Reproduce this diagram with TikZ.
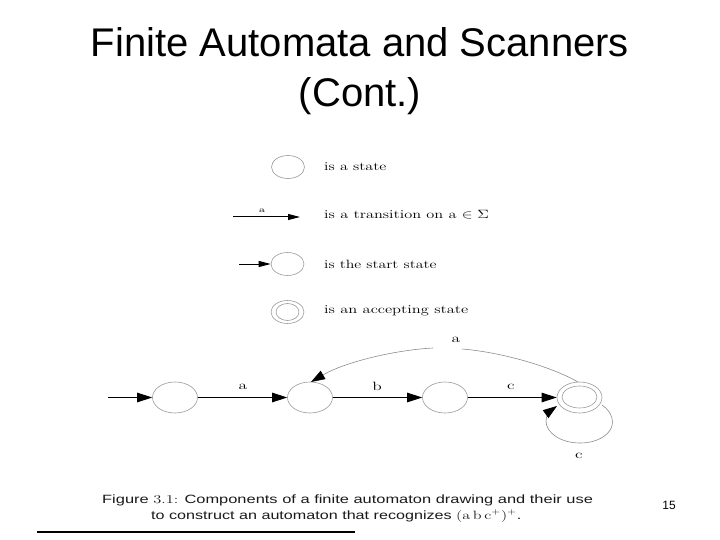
\documentclass[tikz,border=0pt]{standalone}
\usepackage{fontspec}
\setmainfont{Liberation Sans}
\newfontfamily\lm{Latin Modern Roman}
\usetikzlibrary{arrows.meta,shapes.geometric}
\newcommand{\wide}[2]{\scalebox{#1}[1]{#2}}
\tikzset{
 st/.style={ellipse,draw=black!40,line width=0.6pt,minimum width=45pt,minimum height=31pt,inner sep=0pt},
 legst/.style={ellipse,draw=black!40,line width=0.6pt,minimum width=33pt,minimum height=23pt,inner sep=0pt},
 arr/.style={draw=black,line width=1pt,-{Triangle[length=15pt,width=9.5pt]}},
 legarr/.style={draw=black,line width=1pt,-{Triangle[length=12pt,width=6pt]}},
 greyline/.style={draw=black!45,line width=0.6pt},
 greyarr/.style={greyline,-{Triangle[length=14pt,width=9.5pt,fill=black,color=black]}},
 leg/.style={anchor=west,inner sep=0pt,font=\lm\fontsize{12}{13}\selectfont,text=black},
 lab/.style={inner sep=0pt,font=\lm\fontsize{12}{13}\selectfont,text=black},
 captxt/.style={inner sep=0pt,font=\fontsize{12}{13}\selectfont,text=black!90},
 ttl/.style={font=\fontsize{40}{44}\selectfont,inner sep=0pt,anchor=base},
}
\begin{document}
\begin{tikzpicture}[x=1pt,y=-1pt]
\useasboundingbox (0,0) rectangle (720,540);
\node[ttl] (t1) at (360,57) {Finite Automata and Scanners};
\node[ttl] (t2) at (360,107) {(Cont.)};
% legend
\node[legst] (l1) at (288,167) {};
\node[leg] (lt1) at (324,167) {\wide{1.34}{is a state}};
\coordinate (l2a) at (233,217); \coordinate (l2b) at (300,217);
\draw[legarr] (l2a) -- (l2b);
\node[lab,font=\lm\fontsize{8}{9}\selectfont] (l2l) at (262,211) {\wide{1.4}{a}};
\node[leg] (lt2) at (324,215) {\wide{1.36}{is a transition on a $\in\Sigma$}};
\node[legst] (l3) at (287.5,264) {};
\coordinate (l3a) at (239,264);
\draw[legarr] (l3a) -- (l3);
\node[leg] (lt3) at (324,264) {\wide{1.32}{is the start state}};
\node[legst] (l4) at (287.5,312) {};
\node[ellipse,draw=black!40,line width=0.6pt,minimum width=23pt,minimum height=17pt,inner sep=0pt] (l4i) at (287.5,312) {};
\node[leg] (lt4) at (324,311) {\wide{1.37}{is an accepting state}};
% automaton
\node[st] (s1) at (175,397.5) {};
\node[st] (s2) at (310,397.5) {};
\node[st] (s3) at (445,397.5) {};
\node[st] (s4) at (579.5,397.5) {};
\node[ellipse,draw=black!40,line width=0.6pt,minimum width=35pt,minimum height=22pt,inner sep=0pt] (s4i) at (579.5,397) {};
\coordinate (s0) at (108,397.5);
\draw[arr] (s0) -- (s1);
\draw[arr] (s1) -- (s2);
\draw[arr] (s2) -- (s3);
\draw[arr] (s3) -- (s4);
\node[lab] (la) at (243,387) {\wide{1.45}{a}};
\node[lab] (lb) at (377,386) {\wide{1.45}{b}};
\node[lab] (lc) at (511,387) {\wide{1.45}{c}};
\node[lab] (lback) at (456,340) {\wide{1.45}{a}};
\node[lab] (lloop) at (579,456) {\wide{1.45}{c}};
\coordinate (bs) at (578,382);
\coordinate (bm) at (462,349);
\coordinate (bn) at (433,348);
\coordinate (be) at (311,382);
\coordinate (ls) at (602,405);
\coordinate (lr) at (612.5,422);
\coordinate (lb2) at (580,443);
\coordinate (ll) at (546,421);
\coordinate (le) at (557,406);
\draw[greyline] (bs) .. controls (550,366) and (500,352) .. (bm);
\draw[greyarr] (bn) .. controls (395,350) and (345,362) .. (be);
\draw[greyarr] (ls) .. controls (608,409) and (612.5,415) .. (lr) .. controls (612.5,434) and (598,443) .. (lb2) .. controls (561,443) and (546,433) .. (ll) .. controls (546,416) and (550,411) .. (le);
% caption
\node[captxt,anchor=west] (c1) at (102,500) {\wide{1.37}{Figure {\lm 3.1:} Components of a finite automaton drawing and their use}};
\node[captxt,anchor=west] (c2) at (151,516) {\wide{1.345}{to construct an automaton that recognizes {\lm (a\,b\,c$^+$)$^+$}.}};
\node[inner sep=0pt,font=\fontsize{12}{14}\selectfont] (pg) at (669,505) {15};
\coordinate (r1) at (37,532); \coordinate (r2) at (355,532);
\draw[line width=2pt] (r1) -- (r2);
\end{tikzpicture}
\end{document}
